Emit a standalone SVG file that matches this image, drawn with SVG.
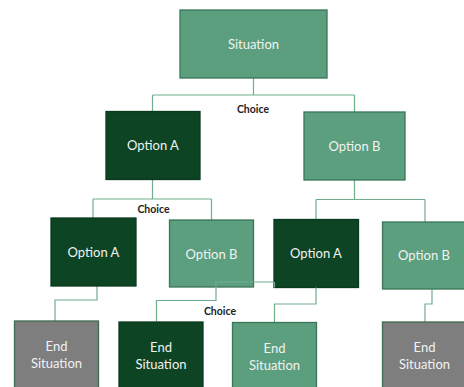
<svg xmlns="http://www.w3.org/2000/svg" width="464" height="387" viewBox="0 0 464 387">
<style>
.box{stroke-width:1.3}
.mid{fill:#5B9F7E;stroke:#3A7657}
.dark{fill:#0C4424;stroke:#0A3A1E}
.gray{fill:#7E7E7E;stroke:#3F6B52}
.t{font-family:Lato,"Open Sans",sans-serif;font-size:13px;fill:#F2F2F2;text-anchor:middle}
.c{font-family:Lato,"Open Sans",sans-serif;font-size:10.5px;font-weight:bold;fill:#222;text-anchor:middle}
.ln{fill:none;stroke:#6FAE8D;stroke-width:1.2}
</style>
<rect width="464" height="387" fill="#fff"/>
<g id="connectors">
<path class="ln" d="M253.5 78V95M152.5 95H354.5M152.5 95V111M354.5 95V112"/>
<path class="ln" d="M152.5 179V199M93 199H211.5M93 199V218M211.5 199V220"/>
<path class="ln" d="M354.5 180V199.5M316 199.5H425M316 199.5V219M425 199.5V222"/>
<path class="ln" d="M97 286V300H55V321"/>
<path class="ln" d="M432 289V304H425V322"/>
</g>
<g id="n_situation"><rect class="box mid" x="180" y="10" width="147" height="68"/><text class="t" x="253.5" y="48.5">Situation</text></g>
<g id="n_optA1"><rect class="box dark" x="106" y="111.5" width="94" height="68"/><text class="t" x="153" y="150">Option A</text></g>
<g id="n_optB1"><rect class="box mid" x="304" y="112" width="101" height="68"/><text class="t" x="354.5" y="151">Option B</text></g>
<g id="n_optA2"><rect class="box dark" x="51" y="218" width="85" height="68"/><text class="t" x="93.5" y="257">Option A</text></g>
<g id="n_optB2"><rect class="box mid" x="169.5" y="220" width="84" height="67"/><text class="t" x="211.5" y="258.5">Option B</text></g>
<g id="n_optA3"><rect class="box dark" x="274" y="219.5" width="84.5" height="68"/><text class="t" x="316" y="258">Option A</text></g>
<g id="n_optB3"><rect class="box mid" x="382.5" y="222" width="84" height="67"/><text class="t" x="424" y="260">Option B</text></g>
<g id="connectors2">
<path class="ln" d="M274 282H216V300.5H156.5V321"/>
<path class="ln" d="M316 287.5V304H274.5V322.5M274.5 282V287.5"/>
</g>
<g id="labels">
<text class="c" x="253" y="112.5">Choice</text>
<text class="c" x="153.5" y="213">Choice</text>
<text class="c" x="220" y="314.5">Choice</text>
</g>
<g id="n_end1"><rect class="box gray" x="14.5" y="321" width="84" height="75"/><text class="t" x="56.5" y="351">End</text><text class="t" x="56.5" y="368">Situation</text></g>
<g id="n_end2"><rect class="box dark" x="119" y="322" width="84" height="75"/><text class="t" x="161" y="352">End</text><text class="t" x="161" y="369">Situation</text></g>
<g id="n_end3"><rect class="box mid" x="232.5" y="322.5" width="84" height="75"/><text class="t" x="274.5" y="352.5">End</text><text class="t" x="274.5" y="369.5">Situation</text></g>
<g id="n_end4"><rect class="box gray" x="382.5" y="322" width="84" height="75"/><text class="t" x="424.5" y="352">End</text><text class="t" x="424.5" y="369">Situation</text></g>
</svg>
